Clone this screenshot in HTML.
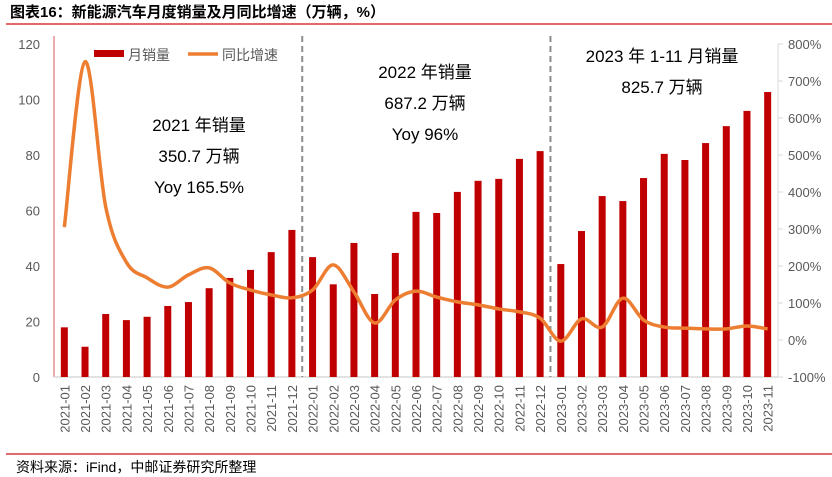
<!DOCTYPE html>
<html><head><meta charset="utf-8"><style>
body{margin:0;background:#fff;width:832px;height:477px;overflow:hidden;font-family:"Liberation Sans","Noto Sans CJK SC",sans-serif}
</style></head><body>
<svg width="832" height="477" style="position:absolute;left:0;top:0">
<text x="10" y="17" font-size="15" font-weight="bold" fill="#000" font-family="Liberation Sans,Noto Sans CJK SC,sans-serif">图表16：新能源汽车月度销量及月同比增速（万辆，%）</text>
<line x1="6" y1="24" x2="832" y2="24" stroke="#d9383a" stroke-width="1.5"/>
<line x1="6" y1="454" x2="832" y2="454" stroke="#d9383a" stroke-width="1.5"/>
<text x="16" y="472" font-size="14" fill="#000" font-family="Liberation Sans,Noto Sans CJK SC,sans-serif">资料来源：iFind，中邮证券研究所整理</text>
<g id="plot"></g>
</svg>
<script>
const categories=["2021-01","2021-02","2021-03","2021-04","2021-05","2021-06","2021-07","2021-08","2021-09","2021-10","2021-11","2021-12","2022-01","2022-02","2022-03","2022-04","2022-05","2022-06","2022-07","2022-08","2022-09","2022-10","2022-11","2022-12","2023-01","2023-02","2023-03","2023-04","2023-05","2023-06","2023-07","2023-08","2023-09","2023-10","2023-11"];
const sales=[17.9,10.9,22.7,20.5,21.7,25.6,27,32,35.7,38.6,45,53,43.2,33.4,48.3,29.9,44.7,59.5,59.1,66.7,70.7,71.4,78.6,81.4,40.7,52.6,65.2,63.4,71.7,80.4,78.2,84.3,90.4,95.9,102.7];
const yoy=[305,752,360,210,168,143,176,195,154,135,122,114,135,203,130,46,108,132,116,103,95,84,76,59,-3,57,35,113,54,35,32,30,30,38,30];
const leftTicks=[0,20,40,60,80,100,120];
const rightTicks=[-100,0,100,200,300,400,500,600,700,800];
const NS="http://www.w3.org/2000/svg";
const g=document.getElementById('plot');
const X0=54,X1=778,Y0=377,Y1=44;
const bw=(X1-X0)/categories.length;
const xc=i=>X0+bw*(i+0.5);
const yL=v=>Y0-(v/120)*(Y0-Y1);
const yR=v=>Y0-((v+100)/900)*(Y0-Y1);
function mk(t,a){const e=document.createElementNS(NS,t);for(const k in a)e.setAttribute(k,a[k]);g.appendChild(e);return e;}
const ff="Liberation Sans,Noto Sans CJK SC,sans-serif";
leftTicks.forEach(v=>{const t=mk('text',{x:X0-14,y:yL(v)+5,'font-size':13,fill:'#595959','text-anchor':'end','font-family':ff});t.textContent=v;

});
rightTicks.forEach(v=>{const l=mk('line',{x1:X1,x2:X1+5,y1:yR(v),y2:yR(v),stroke:'#d9d9d9'});


const t=mk('text',{x:X1+10,y:yR(v)+5,'font-size':13,fill:'#595959','font-family':ff});t.textContent=v+'%';

});
let a=mk('line',{x1:X0,x2:X0,y1:Y1-8,y2:Y0,stroke:'#d9575a','stroke-width':1});


a=mk('line',{x1:X1,x2:X1,y1:Y1,y2:Y0,stroke:'#d9d9d9'});


a=mk('line',{x1:X0,x2:X1,y1:Y0,y2:Y0,stroke:'#d9d9d9','stroke-width':1.5});


sales.forEach((v,i)=>{const r=mk('rect',{x:xc(i)-3.5,y:yL(v),width:7,height:Y0-yL(v),fill:'#c00000'});

});
categories.forEach((c,i)=>{const t=mk('text',{transform:`translate(${xc(i)+5},${Y0+8}) rotate(-90)`,'font-size':13,fill:'#595959','text-anchor':'end','font-family':ff});t.textContent=c;

});
[11,23].forEach(i=>{const l=mk('line',{x1:xc(i)+bw/2,x2:xc(i)+bw/2,y1:36,y2:Y0,stroke:'#8c8c8c','stroke-width':2,'stroke-dasharray':'6,4'});

});
const pts=yoy.map((v,i)=>[xc(i),yR(v)]);
let d=`M${pts[0][0]},${pts[0][1]}`;
for(let i=0;i<pts.length-1;i++){const p0=pts[Math.max(0,i-1)],p1=pts[i],p2=pts[i+1],p3=pts[Math.min(pts.length-1,i+2)];
d+=` C${p1[0]+(p2[0]-p0[0])/6},${p1[1]+(p2[1]-p0[1])/6} ${p2[0]-(p3[0]-p1[0])/6},${p2[1]-(p3[1]-p1[1])/6} ${p2[0]},${p2[1]}`;}
const ln=mk('path',{d:d,fill:'none',stroke:'#ed7d31','stroke-width':3.5,'stroke-linejoin':'round'});


let r=mk('rect',{x:94,y:50,width:30,height:7,fill:'#c00000'});


let t=mk('text',{x:128,y:60,'font-size':14,fill:'#595959','font-family':ff});t.textContent='月销量';


r=mk('line',{x1:188,x2:218,y1:54,y2:54,stroke:'#ed7d31','stroke-width':3.5});


t=mk('text',{x:222,y:60,'font-size':14,fill:'#595959','font-family':ff});t.textContent='同比增速';


function ann(x,y,lines,name){lines.forEach((s,k)=>{const e=mk('text',{x:x,y:y+k*31,'font-size':17,fill:'#000','text-anchor':'middle','font-family':ff});e.textContent=s;

});}
ann(199,131,['2021 年销量','350.7 万辆','Yoy 165.5%'],'annotation-2021');
ann(425,78,['2022 年销量','687.2 万辆','Yoy 96%'],'annotation-2022');
ann(662,62,['2023 年 1-11 月销量','825.7 万辆'],'annotation-2023');
</script>
</body></html>
